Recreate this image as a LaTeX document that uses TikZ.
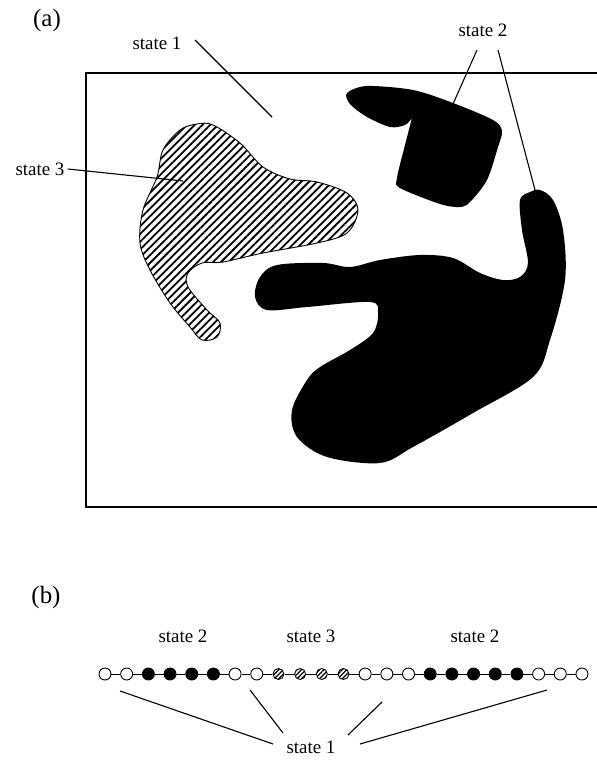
\documentclass[tikz,border=0pt]{standalone}
\usepackage{fontspec}
\setmainfont{Liberation Serif}
\usetikzlibrary{patterns.meta}
\begin{document}
\begin{tikzpicture}[x=1bp,y=-1bp,
  lbl/.style={font=\fontsize{19}{22}\selectfont, inner sep=1bp},
  tag/.style={font=\fontsize{25}{28}\selectfont, inner sep=0pt},
  leader/.style={line width=1.1bp},
  hatch/.style={pattern={Lines[angle=45,distance=5.5bp,line width=1.8bp]}},
  site/.style={circle, draw, line width=0.9bp, minimum size=12bp, inner sep=0pt},
  empty/.style={site, fill=white},
  full/.style={site, fill=black},
  hsite/.style={site, minimum size=11bp, pattern={Lines[angle=45,distance=3.2bp,line width=1.2bp]}},
  chain/.style={line width=0.9bp}]
\useasboundingbox (0,0) rectangle (597,763);

% ---------- panel (a) ----------
\node[tag] (ta) at (47,21) {(a)};
% frame, open on the right where it runs off the page
\draw[line width=1.2bp] (597,73) -- (86,73) -- (86,507) -- (597,507);

% state 3 region (hatched)
\draw[line width=0.9bp, hatch] plot[smooth cycle, tension=0.55] coordinates {
  (213,125) (240,143) (263,167) (290,179) (317,182) (347,193) (358,210)
  (347,233) (317,243) (263,253) (223,262) (202,263) (188,273) (188,287)
  (207,310) (220,323) (217,337) (202,340) (190,327) (170,303) (150,270)
  (140,243) (143,210) (157,177) (163,150) (180,130) (197,124)};

% state 2 region, upper piece (sharp notch where brim meets body)
\fill plot[smooth, tension=0.5] coordinates {
  (412,118) (405,125) (390,127) (367,117) (350,104) (347,93) (367,86)
  (413,90) (453,103) (493,120) (502,131) (498,147) (487,180) (470,202)
  (460,207) (440,204) (400,188) (397,178) (405,145) (412,118)} -- cycle;

% state 2 region, large piece
\fill plot[smooth cycle, tension=0.55] coordinates {
  (540,190) (553,200) (563,230) (565,280) (550,340) (533,377) (473,413)
  (413,447) (380,463) (327,457) (297,437) (292,410) (307,380) (320,367)
  (350,350) (373,333) (378,313) (370,302) (307,307) (267,310) (255,297)
  (260,277) (277,265) (323,263) (350,267) (380,260) (420,255) (453,258)
  (480,273) (503,280) (520,277) (528,263) (522,230) (520,200) (530,192)};

% labels and leaders
\node[lbl] (s1) at (157,43) {state 1};
\node[lbl] (s3) at (40,169) {state 3};
\node[lbl] (s2) at (483,30) {state 2};
\coordinate (e1) at (272,117);
\coordinate (e3) at (183,181);
\coordinate (e2a) at (453,104);
\coordinate (e2b) at (535,190);
\draw[leader] (195,40) -- (e1);
\draw[leader] (s3.east) ++(2,0) -- (e3);
\draw[leader] (477,50) -- (e2a);
\draw[leader] (498,50) -- (e2b);

% ---------- panel (b) ----------
\node[tag] (tb) at (46,598) {(b)};
\node[lbl] (b2l) at (183,636) {state 2};
\node[lbl] (b3)  at (311,636) {state 3};
\node[lbl] (b2r) at (475,636) {state 2};

\foreach \i/\k in {1/empty,2/empty,3/full,4/full,5/full,6/full,7/empty,8/empty,
                   9/hsite,10/hsite,11/hsite,12/hsite,13/empty,14/empty,15/empty,
                   16/full,17/full,18/full,19/full,20/full,21/empty,22/empty,23/empty}
  \node[\k] (c\i) at ({105+(\i-1)*21.68},674) {};
\foreach \i [evaluate=\i as \j using int(\i+1)] in {1,...,22}
  \draw[chain] (c\i) -- (c\j);

\node[lbl] (b1) at (311,747) {state 1};
\coordinate (f1) at (120,691);
\coordinate (f2) at (250,690);
\coordinate (f3) at (382,702);
\coordinate (f4) at (547,690);
\draw[leader] (f1) -- (273,744);
\draw[leader] (f2) -- (283,733);
\draw[leader] (f3) -- (348,735);
\draw[leader] (f4) -- (360,744);
\end{tikzpicture}
\end{document}
